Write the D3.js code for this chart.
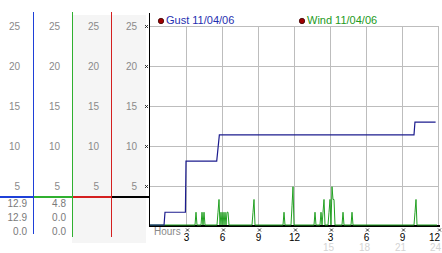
<!DOCTYPE html>
<html>
<head>
<meta charset="utf-8">
<script src="https://cdn.jsdelivr.net/npm/d3@7"></script>
<style>
  body { margin: 0; background: #fff; }
  svg { display: block; font-family: "Liberation Sans", Arial, sans-serif; }
</style>
</head>
<body>
<div id="chart"></div>
<script>
// ---- data ----
const seriesNames = ["Gust 11/04/06", "Wind 11/04/06"];
const yTicks = [5, 10, 15, 20, 25];
const hourTicks = [3, 6, 9, 12, 15, 18, 21, 24];
const hourLabels = ["3", "6", "9", "12", "3", "6", "9", "12"];
const hour24Labels = ["", "", "", "", "15", "18", "21", "24"];

// gust: vertices [hour, value] (step line)
const gustHours = [0, 1.17, 1.25, 2.95, 3.0, 5.56, 5.78, 22.0, 22.08, 23.8];
const gustVals  = [0, 0, 1.6, 1.6, 8.0, 8.0, 11.3, 11.3, 12.9, 12.9];

// wind: non-zero 5-minute readings (index = minutes / 5), zero elsewhere
const windIdx = [46, 52, 54, 68, 69, 71, 73, 75, 77, 78, 103, 104, 134, 142, 143,
                 165, 171, 173, 174, 179, 180, 182, 183, 184, 193, 202, 265, 266];
const windVal = [1.6, 1.6, 1.6, 1.6, 3.2, 1.6, 1.6, 1.6, 1.6, 1.6, 1.6, 3.2, 1.6, 2.4, 4.8,
                 1.6, 1.6, 1.6, 3.2, 1.6, 3.2, 4.8, 3.2, 3.2, 1.6, 1.6, 1.6, 3.2];
const windLastIdx = 287;

// summary columns (current / max / min)
const gustStats = ["12.9", "12.9", "0.0"];
const windStats = ["4.8", "0.0", "0.0"];

// ---- layout ----
const W = 442, H = 253;
const colors = {
  gust: "#1c1c8e", wind: "#22a022", blue: "#1e40d8", green: "#30b030",
  red: "#d42020", grid: "#bdbdbd", label: "#8a8a8a"
};

const svg = d3.select("#chart").append("svg")
  .attr("width", W).attr("height", H);

const x = d3.scaleLinear().domain([0, 24]).range([150, 438]);
const y = d3.scaleLinear().domain([0, 25]).range([226, 26.5]);
const snap = v => Math.floor(v) + 0.5;

// left panel backgrounds
svg.append("rect").attr("x", 72).attr("y", 15).attr("width", 74).attr("height", 228)
  .attr("fill", "#f5f5f5");

// left panel label columns
const colRight = [20, 60, 99, 137];
colRight.forEach(cx => {
  const g = svg.append("g").attr("transform", `translate(${cx},0)`)
    .call(d3.axisLeft(y).tickValues(yTicks).tickSize(0).tickPadding(0));
  g.select(".domain").remove();
  g.selectAll("text").attr("fill", colors.label)
    .style("font-size", "10px").style("font-family", "inherit");
});

// separator line
const sepCols = [[0, 33, colors.blue], [33, 72, colors.green], [72, 111, colors.red], [111, 149, "#000"]];
svg.selectAll("line.sep").data(sepCols).enter().append("line")
  .attr("class", "sep")
  .attr("x1", d => d[0]).attr("x2", d => d[1])
  .attr("y1", 197).attr("y2", 197)
  .attr("stroke", d => d[2]).attr("stroke-width", 2)
  .attr("shape-rendering", "crispEdges");

// column dividers
const dividers = [[33.5, 234, colors.blue], [72.5, 237, colors.green], [111.5, 237, colors.red]];
svg.selectAll("line.div").data(dividers).enter().append("line")
  .attr("class", "div")
  .attr("x1", d => d[0]).attr("x2", d => d[0])
  .attr("y1", 12).attr("y2", d => d[1])
  .attr("stroke", d => d[2]).attr("stroke-width", 1)
  .attr("shape-rendering", "crispEdges");

// stats
[[gustStats, 27], [windStats, 66]].forEach(([vals, rx]) => {
  svg.selectAll(null).data(vals).enter().append("text")
    .attr("x", rx).attr("y", (d, i) => 207 + i * 14)
    .attr("text-anchor", "end")
    .attr("font-size", 10).attr("fill", "#7a7a7a")
    .text(d => d);
});

// plot gridlines
svg.selectAll("line.hgrid").data(yTicks).enter().append("line")
  .attr("class", "hgrid")
  .attr("x1", 150).attr("x2", 439)
  .attr("y1", d => snap(y(d))).attr("y2", d => snap(y(d)))
  .attr("stroke", colors.grid).attr("shape-rendering", "crispEdges");
svg.selectAll("line.vgrid").data(hourTicks).enter().append("line")
  .attr("class", "vgrid")
  .attr("x1", d => snap(x(d))).attr("x2", d => snap(x(d)))
  .attr("y1", snap(y(25))).attr("y2", 226)
  .attr("stroke", colors.grid).attr("shape-rendering", "crispEdges");

// axes lines
svg.append("line").attr("x1", 149.5).attr("x2", 149.5).attr("y1", 13).attr("y2", 226)
  .attr("stroke", "#000").attr("shape-rendering", "crispEdges");
svg.append("line").attr("x1", 149).attr("x2", 440).attr("y1", 226).attr("y2", 226)
  .attr("stroke", "#000").attr("stroke-width", 2).attr("shape-rendering", "crispEdges");

// little tick glyphs
function mark(g, cx, cy) {
  g.append("path")
    .attr("d", `M${cx - 1.5},${cy - 1.5}L${cx + 1.5},${cy + 1.5}M${cx + 1.5},${cy - 1.5}L${cx - 1.5},${cy + 1.5}`)
    .attr("stroke", "#222").attr("stroke-width", 0.9).attr("fill", "none");
}
const marks = svg.append("g");
yTicks.forEach(v => mark(marks, 146.5, Math.floor(y(v)) + 0.5));
hourTicks.forEach(h => mark(marks, x(h) + 1.5, 230));

// x axis labels (last label nudged in so it stays inside the frame)
const lastTick = hourTicks[hourTicks.length - 1];
const xa = svg.append("g").attr("transform", "translate(0,241)")
  .call(d3.axisBottom(x).tickValues(hourTicks).tickSize(0).tickPadding(0)
    .tickFormat((d, i) => hourLabels[i]));
xa.select(".domain").remove();
xa.selectAll("text").attr("dy", "0").attr("fill", "#000")
  .attr("dx", d => d === lastTick ? -4 : 0)
  .style("font-size", "10px").style("font-family", "inherit");

const xb = svg.append("g").attr("transform", "translate(-2,251)")
  .call(d3.axisBottom(x).tickValues(hourTicks).tickSize(0).tickPadding(0)
    .tickFormat((d, i) => hour24Labels[i]));
xb.select(".domain").remove();
xb.selectAll("text").attr("dy", "0").attr("fill", "#d4d4d4")
  .attr("dx", d => d === lastTick ? -1 : 0)
  .style("font-size", "10px").style("font-family", "inherit");

svg.append("text").attr("x", 154).attr("y", 235)
  .attr("font-size", 10).attr("fill", "#8a8a8a").text("Hours");

// series
const windMap = new Map(windIdx.map((d, i) => [d, windVal[i]]));
const windData = d3.range(0, windLastIdx + 1).map(i => [i / 12, windMap.get(i) || 0]);
const gustData = gustHours.map((h, i) => [h, gustVals[i]]);

const line = d3.line().x(d => x(d[0])).y(d => y(d[1]) - 1);

svg.append("path").datum(windData)
  .attr("d", line).attr("fill", "none")
  .attr("stroke", colors.wind).attr("stroke-width", 1);
svg.append("path").datum(gustData)
  .attr("d", line).attr("fill", "none")
  .attr("stroke", colors.gust).attr("stroke-width", 1.2);

// legend
const legend = [[161, seriesNames[0], "#1f2fb0"], [302, seriesNames[1], "#229a22"]];
legend.forEach(([lx, name, c]) => {
  svg.append("circle").attr("cx", lx).attr("cy", 21).attr("r", 2.7)
    .attr("fill", "#a00000").attr("stroke", "#3a0000").attr("stroke-width", 0.8);
  svg.append("text").attr("x", lx + 5).attr("y", 24)
    .attr("font-size", 11).attr("fill", c).text(name);
});
</script>
</body>
</html>
